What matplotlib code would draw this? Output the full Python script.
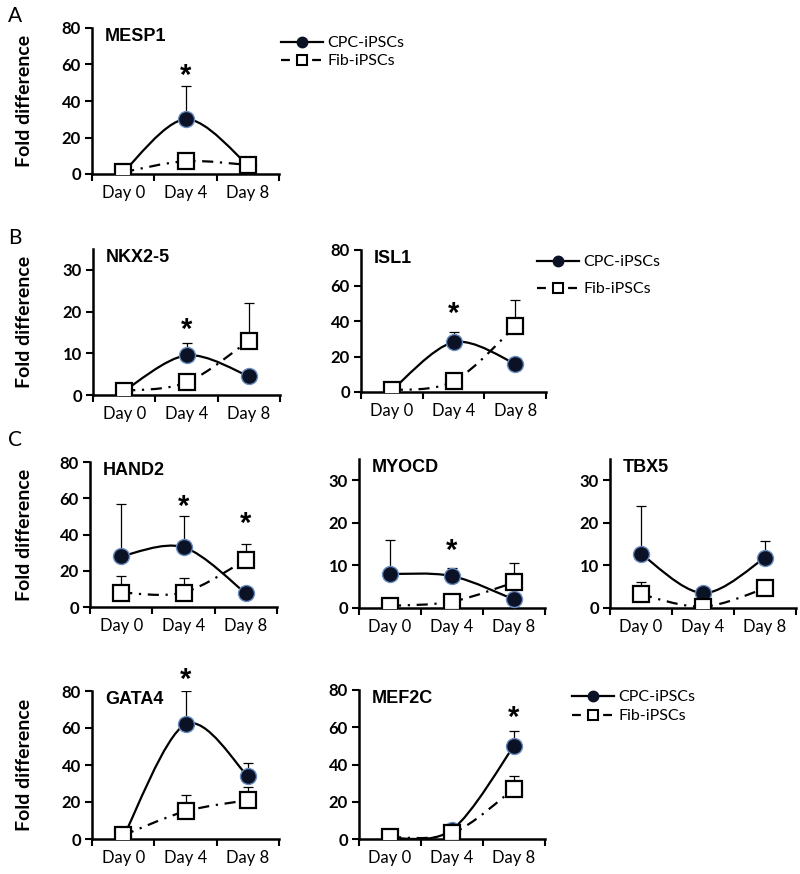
import numpy as np
import matplotlib
matplotlib.use('Agg')
import matplotlib.pyplot as plt
from matplotlib.path import Path
from matplotlib.patches import PathPatch
from matplotlib.lines import Line2D

# data (fold difference, Day 0 / Day 4 / Day 8)
days = ['Day 0', 'Day 4', 'Day 8']

mesp1_cpc = [1, 30, 5]
mesp1_cpc_err = [0, 18, 0]
mesp1_fib = [1, 7, 5]
mesp1_fib_err = [0, 0, 0]
mesp1_star = [None, 54, None]

nkx_cpc = [1, 9.5, 4.5]
nkx_cpc_err = [0, 3, 0]
nkx_fib = [1, 3, 13]
nkx_fib_err = [0, 0, 9]
nkx_star = [None, 15.5, None]

isl1_cpc = [1, 28, 16]
isl1_cpc_err = [0, 6, 0]
isl1_fib = [1, 6, 37]
isl1_fib_err = [0, 0, 15]
isl1_star = [None, 44, None]

hand2_cpc = [28, 33, 7.5]
hand2_cpc_err = [29, 17, 0]
hand2_fib = [8, 8, 26]
hand2_fib_err = [9, 8, 9]
hand2_star = [None, 55, 46]

myocd_cpc = [8, 7.5, 2]
myocd_cpc_err = [8, 2, 0]
myocd_fib = [0.5, 1.5, 6]
myocd_fib_err = [0, 0, 4.5]
myocd_star = [None, 13.4, None]

tbx5_cpc = [12.7, 3.5, 11.8]
tbx5_cpc_err = [11.3, 0, 4]
tbx5_fib = [3.2, 0.3, 4.6]
tbx5_fib_err = [2.8, 0, 0]
tbx5_star = [None, None, None]

gata4_cpc = [1, 62, 34]
gata4_cpc_err = [0, 18, 7]
gata4_fib = [2, 15, 21]
gata4_fib_err = [0, 9, 7]
gata4_star = [None, 86, None]

mef2c_cpc = [0.5, 5, 50]
mef2c_cpc_err = [0, 0, 8]
mef2c_fib = [1, 3, 27]
mef2c_fib_err = [0, 0, 7]
mef2c_star = [None, None, 65]

W, H = 800, 874
fig = plt.figure(figsize=(W / 100, H / 100), dpi=100)

tick_font = 'Lato'
title_font = 'Liberation Sans'
circ_face = '#0c1226'
circ_edge = '#6a8cc0'
fib_dash = (0, (5, 3, 1, 3))


def smooth_path(xs, ys):
    # Excel-like smoothed line (Catmull-Rom as cubic Bezier)
    pts = list(zip(xs, ys))
    n = len(pts)
    verts = [pts[0]]
    codes = [Path.MOVETO]
    for i in range(n - 1):
        p0 = pts[i - 1] if i > 0 else pts[i]
        p1 = pts[i]
        p2 = pts[i + 1]
        p3 = pts[i + 2] if i + 2 < n else pts[i + 1]
        c1 = (p1[0] + (p2[0] - p0[0]) / 6, p1[1] + (p2[1] - p0[1]) / 6)
        c2 = (p2[0] - (p3[0] - p1[0]) / 6, p2[1] - (p3[1] - p1[1]) / 6)
        verts += [c1, c2, p2]
        codes += [Path.CURVE4] * 3
    return Path(verts, codes)


def make_panel(px_left, px_zero, px_top, px_right, ytop, yticks, name,
               cpc, cpc_err, fib, fib_err, stars, ylabel=True):
    ax = fig.add_axes([px_left / W, 1 - px_zero / H,
                       (px_right - px_left) / W, (px_zero - px_top) / H])
    x = np.arange(3) + 0.5
    ax.add_patch(PathPatch(smooth_path(x, cpc), fill=False, lw=1.6,
                           edgecolor='black', zorder=2, capstyle='round'))
    ax.add_patch(PathPatch(smooth_path(x, fib), fill=False, lw=1.6,
                           edgecolor='black', linestyle=fib_dash, zorder=2))
    ax.errorbar(x, cpc, yerr=[np.zeros(3), cpc_err], fmt='none', ecolor='black',
                elinewidth=0.9, capsize=3.5, capthick=0.9, zorder=2.5)
    ax.errorbar(x, fib, yerr=[np.zeros(3), fib_err], fmt='none', ecolor='black',
                elinewidth=0.9, capsize=3.5, capthick=0.9, zorder=2.5)
    ax.plot(x, cpc, 'o', ms=11.5, mfc=circ_face, mec=circ_edge, mew=1.0, zorder=3)
    ax.plot(x, fib, 's', ms=11.5, mfc='white', mec='black', mew=1.6, zorder=4)
    for xi, s in zip(x, stars):
        if s is not None:
            ax.text(xi, s, '*', ha='center', va='center', fontsize=21,
                    fontweight='bold', family=title_font, clip_on=False)

    ax.set_xlim(0, 3)
    ax.set_ylim(0, ytop)
    ax.spines['top'].set_visible(False)
    ax.spines['right'].set_visible(False)
    ax.spines['left'].set_linewidth(1.8)
    ax.spines['bottom'].set_linewidth(1.8)
    ax.set_xticks([0, 1, 2, 3])
    ax.set_xticklabels([])
    ax.set_xticks(x, minor=True)
    ax.set_xticklabels(days, minor=True, fontsize=12, family=tick_font)
    ax.tick_params(axis='x', which='major', direction='out', length=5, width=1.5)
    ax.tick_params(axis='x', which='minor', length=0, pad=8)
    ax.set_yticks(yticks)
    ax.set_yticklabels([str(t) for t in yticks], fontsize=12, fontweight='bold',
                       family=tick_font)
    ax.tick_params(axis='y', direction='out', length=5, width=1.5, pad=3)
    ax.text(0.07, 1.0, name, transform=ax.transAxes, ha='left', va='top',
            fontsize=13, fontweight='bold', family=title_font)
    if ylabel:
        ax.set_ylabel('Fold difference', fontsize=14, fontweight='bold',
                      family=tick_font)
        ax.yaxis.set_label_coords(-(px_left - 33) / (px_right - px_left), 0.5)
    return ax


t80 = [0, 20, 40, 60, 80]
t30 = [0, 10, 20, 30]

make_panel(92, 174, 28, 279, 80, t80, 'MESP1',
           mesp1_cpc, mesp1_cpc_err, mesp1_fib, mesp1_fib_err, mesp1_star)
make_panel(93, 395, 249, 280, 35, t30, 'NKX2-5',
           nkx_cpc, nkx_cpc_err, nkx_fib, nkx_fib_err, nkx_star)
make_panel(361, 392, 250, 546, 80, t80, 'ISL1',
           isl1_cpc, isl1_cpc_err, isl1_fib, isl1_fib_err, isl1_star, ylabel=False)
make_panel(90, 607, 462, 277, 80, t80, 'HAND2',
           hand2_cpc, hand2_cpc_err, hand2_fib, hand2_fib_err, hand2_star)
make_panel(359, 608, 459, 545, 35, t30, 'MYOCD',
           myocd_cpc, myocd_cpc_err, myocd_fib, myocd_fib_err, myocd_star, ylabel=False)
make_panel(610, 608, 459, 796, 35, t30, 'TBX5',
           tbx5_cpc, tbx5_cpc_err, tbx5_fib, tbx5_fib_err, tbx5_star, ylabel=False)
make_panel(92, 839, 691, 279, 80, t80, 'GATA4',
           gata4_cpc, gata4_cpc_err, gata4_fib, gata4_fib_err, gata4_star)
make_panel(359, 839, 690, 545, 80, t80, 'MEF2C',
           mef2c_cpc, mef2c_cpc_err, mef2c_fib, mef2c_fib_err, mef2c_star, ylabel=False)

# legends
handles = [Line2D([], [], color='black', lw=1.6, marker='o', ms=7.5,
                  mfc=circ_face, mec=circ_face),
           Line2D([], [], color='black', lw=1.6, ls=(0, (4, 3)), marker='s', ms=7.5,
                  mfc='white', mec='black', mew=1.5)]
labels = ['CPC-iPSCs', 'Fib-iPSCs']


def add_legend(px, py, spacing):
    fig.legend(handles, labels, loc='upper left',
               bbox_to_anchor=(px / W, 1 - py / H), bbox_transform=fig.transFigure,
               frameon=False, borderpad=0, borderaxespad=0, handlelength=2.6,
               handletextpad=0.3, labelspacing=spacing,
               prop={'family': tick_font, 'size': 11.5})


add_legend(281, 36, 0.25)
add_legend(537, 255, 0.8)
add_legend(572, 690, 0.3)

# panel letters
for lbl, py in [('A', 16), ('B', 238), ('C', 440)]:
    fig.text(8 / W, 1 - py / H, lbl, fontsize=15, family=tick_font,
             ha='left', va='center')

fig.savefig('out.png', dpi=100)
